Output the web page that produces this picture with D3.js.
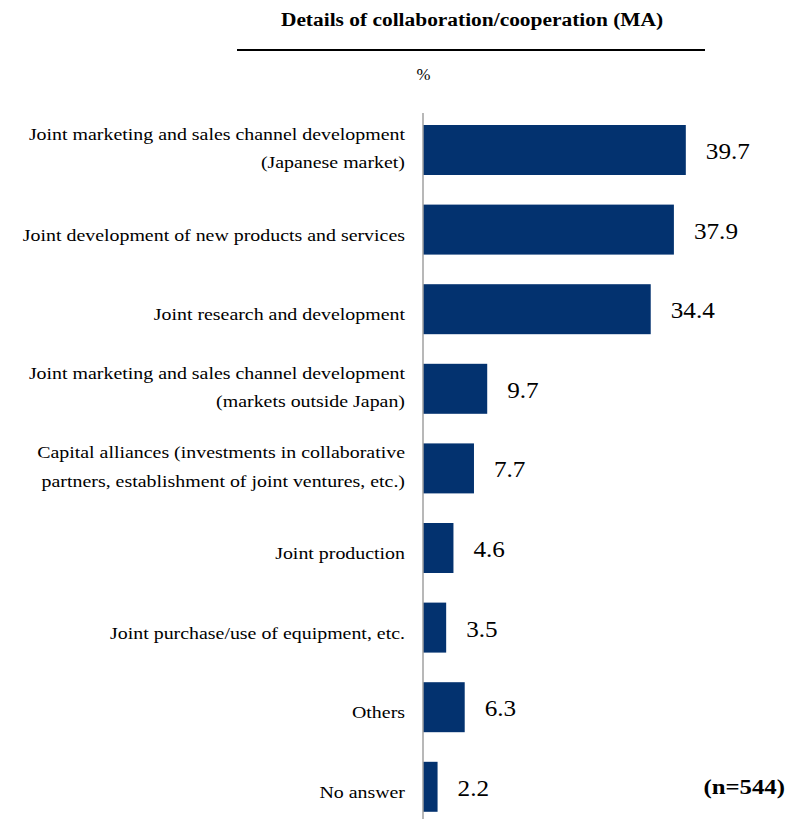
<!DOCTYPE html>
<html>
<head>
<meta charset="utf-8">
<script src="https://cdn.jsdelivr.net/npm/d3@7"></script>
<style>
  html, body { margin: 0; padding: 0; background: #fff; }
  svg { display: block; }
</style>
</head>
<body>
<div id="chart"></div>
<script>
const title = "Details of collaboration/cooperation (MA)";
const unitLabel = "%";
const sampleNote = "(n=544)";
const categories = [
  "Joint marketing and sales channel development\n(Japanese market)",
  "Joint development of new products and services",
  "Joint research and development",
  "Joint marketing and sales channel development\n(markets outside Japan)",
  "Capital alliances (investments in collaborative\npartners, establishment of joint ventures, etc.)",
  "Joint production",
  "Joint purchase/use of equipment, etc.",
  "Others",
  "No answer"
];
const values = [39.7, 37.9, 34.4, 9.7, 7.7, 4.6, 3.5, 6.3, 2.2];

const W = 806, H = 819;
const axisX = 423;
const FONT = "'Liberation Serif'";
const svg = d3.select("#chart").append("svg").attr("width", W).attr("height", H);

const x = d3.scaleLinear().domain([0, 40]).range([axisX, axisX + 264.8]);
const y = d3.scaleBand().domain(categories).range([110.2, 826.6])
  .paddingInner(0.372).paddingOuter(0.186);

function stretched(sel, tx, ty, sx) {
  return sel.attr("transform", `translate(${tx},${ty}) scale(${sx},1)`)
    .style("font-family", FONT).attr("fill", "#000");
}

// title
stretched(svg.append("text"), 472, 26, 1.19).attr("text-anchor", "middle")
  .style("font-size", "18px").style("font-weight", "bold").text(title);
svg.append("line").attr("x1", 237).attr("x2", 705).attr("y1", 50).attr("y2", 50)
  .attr("stroke", "#000").attr("stroke-width", 2);
stretched(svg.append("text"), 423.5, 80, 1.05).attr("text-anchor", "middle")
  .style("font-size", "16px").text(unitLabel);

// bars
svg.selectAll("rect.bar").data(values).join("rect").attr("class", "bar")
  .attr("x", x(0)).attr("y", (d, i) => y(categories[i]))
  .attr("width", d => x(d) - x(0)).attr("height", y.bandwidth())
  .attr("fill", "#03326f");

// axis line
svg.append("line").attr("x1", axisX).attr("x2", axisX).attr("y1", 113).attr("y2", H)
  .attr("stroke", "#a0a0a0").attr("stroke-width", 1.5);

// value labels
svg.selectAll("text.val").data(values).join("text").attr("class", "val")
  .each(function (d, i) {
    stretched(d3.select(this), x(d) + 20, y(categories[i]) + y.bandwidth() / 2 + 9, 1.05);
  })
  .style("font-size", "24px").text(d => d.toFixed(1));

// category labels
svg.selectAll("text.cat").data(categories).join("text").attr("class", "cat")
  .each(function (c) {
    const lines = c.split("\n");
    const cy = y(c) + y.bandwidth() / 2;
    const t = d3.select(this);
    stretched(t, 405, cy, 1.17).attr("text-anchor", "end").style("font-size", "17px");
    if (lines.length === 1) {
      t.append("tspan").attr("x", 0).attr("y", 11).text(lines[0]);
    } else {
      lines.forEach((ln, k) => {
        t.append("tspan").attr("x", 0).attr("y", -10 + k * 28.5).text(ln);
      });
    }
  });

// sample note
stretched(svg.append("text"), 785, 794, 1.18).attr("text-anchor", "end")
  .style("font-size", "21px").style("font-weight", "bold").text(sampleNote);
</script>
</body>
</html>
